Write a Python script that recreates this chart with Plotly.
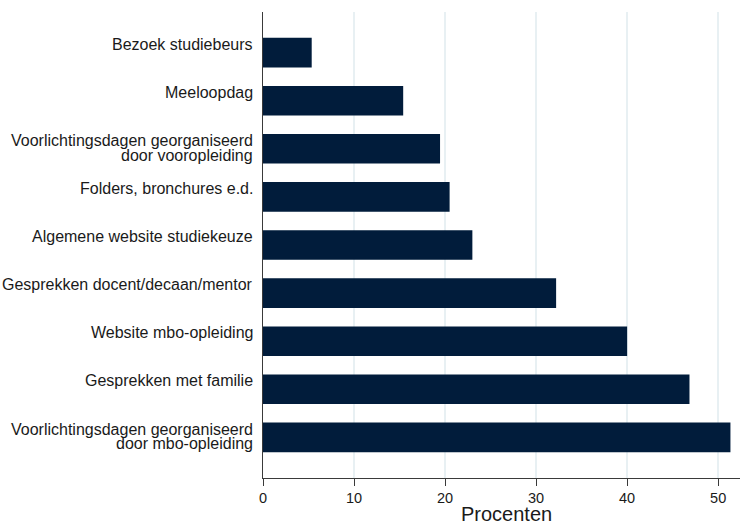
import plotly.graph_objects as go

# Data
categories = [
    "Bezoek studiebeurs",
    "Meeloopdag",
    "Voorlichtingsdagen georganiseerd\ndoor vooropleiding",
    "Folders, bronchures e.d.",
    "Algemene website studiekeuze",
    "Gesprekken docent/decaan/mentor",
    "Website mbo-opleiding",
    "Gesprekken met familie",
    "Voorlichtingsdagen georganiseerd\ndoor mbo-opleiding",
]
values = [5.35, 15.4, 19.45, 20.5, 23.0, 32.2, 40.0, 46.85, 51.35]
x_ticks = [0, 10, 20, 30, 40, 50]
x_title = "Procenten"

cat_keys = [c.replace("\n", " ") for c in categories]

BAR = "#011c3b"
GRID = "#e8f0f3"
AXIS = "#3a3a3a"
TEXT = "#1a1a1a"
FONT = "Liberation Sans, Arial, sans-serif"

fig = go.Figure(
    go.Bar(
        x=values,
        y=cat_keys,
        orientation="h",
        marker=dict(color=BAR, line=dict(width=0)),
        hoverinfo="x+y",
    )
)

annotations = []
for key, label in zip(cat_keys, categories):
    lines = label.split("\n")
    shifts = [8.3, -6.4]
    for i, line in enumerate(lines):
        annotations.append(
            dict(
                text=line,
                xref="paper",
                x=0,
                xanchor="right",
                xshift=-9,
                yref="y",
                y=key,
                yanchor="middle",
                yshift=shifts[i],
                borderpad=0,
                showarrow=False,
                font=dict(family=FONT, size=16, color=TEXT),
            )
        )

# axis title (slightly right of plot centre, as in the reference)
annotations.append(
    dict(
        text=x_title,
        xref="paper",
        x=0.511,
        xanchor="center",
        yref="paper",
        y=0,
        yanchor="middle",
        yshift=-35.5,
        borderpad=0,
        showarrow=False,
        font=dict(family=FONT, size=20, color=TEXT),
    )
)

fig.update_layout(
    width=740,
    height=526,
    margin=dict(l=263, r=0, t=12, b=48),
    paper_bgcolor="white",
    plot_bgcolor="white",
    bargap=0.385,
    showlegend=False,
    font=dict(family=FONT, color=TEXT),
    annotations=annotations,
    xaxis=dict(
        range=[0, 52.4],
        tickvals=x_ticks,
        ticktext=[str(t) for t in x_ticks],
        showgrid=True,
        gridcolor=GRID,
        gridwidth=1.5,
        zeroline=False,
        showline=True,
        linecolor=AXIS,
        linewidth=1,
        ticks="outside",
        ticklen=7,
        tickcolor=AXIS,
        tickwidth=1,
        tickfont=dict(family=FONT, size=14.5, color=TEXT),
    ),
    yaxis=dict(
        type="category",
        categoryorder="array",
        categoryarray=cat_keys,
        range=[8.845, -0.845],
        showticklabels=False,
        showgrid=False,
        zeroline=False,
        showline=True,
        linecolor=AXIS,
        linewidth=1,
        ticks="",
    ),
)

fig.write_html(
    "out.html",
    config={"displayModeBar": False},
    post_script="document.body.style.margin='0px';document.body.style.overflow='hidden';",
)
